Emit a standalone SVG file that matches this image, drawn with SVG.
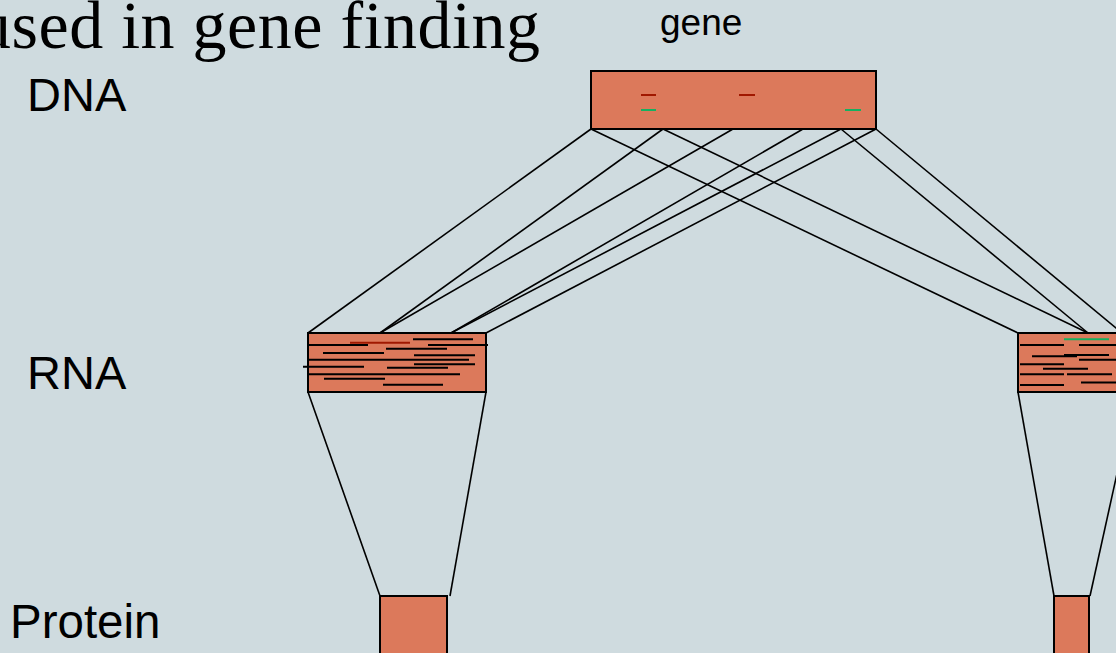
<svg xmlns="http://www.w3.org/2000/svg" width="1116" height="653" viewBox="0 0 1116 653">
<style>
.box{fill:#dc795b;stroke:#000;stroke-width:2}
.con{stroke:#000;stroke-width:1.6;fill:none}
.seq{stroke:#000;stroke-width:2}
.red{stroke:#a01800;stroke-width:2}
.grn{stroke:#16b060;stroke-width:2}
.lbl{font-family:"Liberation Sans",Arial,sans-serif;fill:#000}
.title{font-family:"Liberation Serif","Times New Roman",serif;fill:#000}
</style>
<rect x="0" y="0" width="1116" height="653" fill="#cfdbdf"/>
<text class="title" x="-23" y="48" font-size="68" textLength="563" lengthAdjust="spacing">used in gene finding</text>
<text class="lbl" x="27" y="111" font-size="47">DNA</text>
<text class="lbl" x="27" y="389" font-size="47">RNA</text>
<text class="lbl" x="10" y="638" font-size="47.5">Protein</text>
<text class="lbl" x="660" y="35" font-size="37">gene</text>
<g id="connectors">
<line class="con" x1="591" y1="129" x2="308" y2="333"/>
<line class="con" x1="591" y1="129" x2="1018" y2="333"/>
<line class="con" x1="663" y1="129" x2="380" y2="333"/>
<line class="con" x1="663" y1="129" x2="1088" y2="333"/>
<line class="con" x1="733" y1="129" x2="380" y2="333"/>
<line class="con" x1="803" y1="129" x2="451" y2="333"/>
<line class="con" x1="841" y1="129" x2="451" y2="333"/>
<line class="con" x1="841" y1="129" x2="1088" y2="333"/>
<line class="con" x1="876" y1="129" x2="486" y2="333"/>
<line class="con" x1="876" y1="129" x2="1122" y2="333"/>
<line class="con" x1="308" y1="392" x2="380" y2="596"/>
<line class="con" x1="486" y1="392" x2="450" y2="596"/>
<line class="con" x1="1018" y1="392" x2="1054" y2="596"/>
<line class="con" x1="1135" y1="392" x2="1090" y2="596"/>
</g>
<g id="dna">
<rect class="box" x="591" y="71" width="285" height="58"/>
<line class="red" x1="641" y1="95" x2="656" y2="95"/>
<line class="red" x1="739" y1="95" x2="755" y2="95"/>
<line class="grn" x1="641" y1="110" x2="656" y2="110"/>
<line class="grn" x1="845" y1="110" x2="861" y2="110"/>
</g>
<g id="rna1">
<rect class="box" x="308" y="333" width="178" height="59"/>
<line class="red" x1="350" y1="342.7" x2="410" y2="342.7"/>
<line class="seq" x1="413" y1="339.3" x2="473" y2="339.3"/>
<line class="seq" x1="309" y1="345" x2="368" y2="345"/>
<line class="seq" x1="428" y1="345" x2="488" y2="345"/>
<line class="seq" x1="386" y1="348.7" x2="447" y2="348.7"/>
<line class="seq" x1="323" y1="353" x2="384" y2="353"/>
<line class="seq" x1="414" y1="355.3" x2="475" y2="355.3"/>
<line class="seq" x1="309" y1="359.7" x2="469" y2="359.7"/>
<line class="seq" x1="414" y1="364.3" x2="475" y2="364.3"/>
<line class="seq" x1="303" y1="366.7" x2="364" y2="366.7"/>
<line class="seq" x1="387" y1="367.7" x2="448" y2="367.7"/>
<line class="seq" x1="309" y1="374.3" x2="460" y2="374.3"/>
<line class="seq" x1="324" y1="378.7" x2="385" y2="378.7"/>
<line class="seq" x1="383" y1="384.7" x2="443" y2="384.7"/>
</g>
<g id="rna2">
<rect class="box" x="1018" y="333" width="130" height="59"/>
<line class="grn" x1="1064" y1="339.3" x2="1109" y2="339.3"/>
<line class="seq" x1="1020" y1="345" x2="1064" y2="345"/>
<line class="seq" x1="1079" y1="345" x2="1116" y2="345"/>
<line class="seq" x1="1064" y1="355" x2="1109" y2="355"/>
<line class="seq" x1="1032" y1="356.3" x2="1077" y2="356.3"/>
<line class="seq" x1="1079" y1="359.7" x2="1116" y2="359.7"/>
<line class="seq" x1="1020" y1="364.3" x2="1064" y2="364.3"/>
<line class="seq" x1="1043" y1="368.7" x2="1088" y2="368.7"/>
<line class="seq" x1="1020" y1="374.3" x2="1064" y2="374.3"/>
<line class="seq" x1="1067" y1="374.3" x2="1112" y2="374.3"/>
<line class="seq" x1="1081" y1="382.5" x2="1116" y2="382.5"/>
<line class="seq" x1="1020" y1="385" x2="1064" y2="385"/>
</g>
<g id="protein1">
<rect class="box" x="380" y="596" width="67" height="70"/>
</g>
<g id="protein2">
<rect class="box" x="1054" y="596" width="35" height="70"/>
</g>
</svg>
